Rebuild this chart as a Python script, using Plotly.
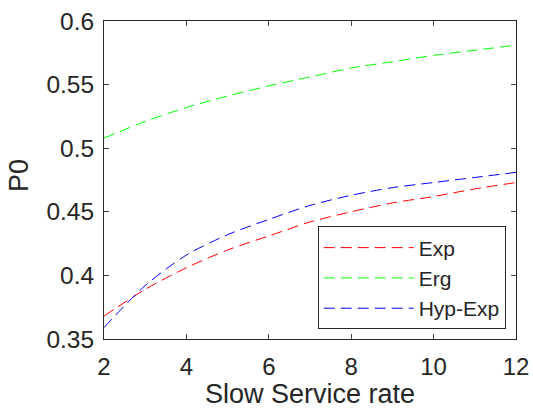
import plotly.graph_objects as go

x_vals = [2, 3, 4, 5, 6, 7, 8, 9, 10, 11, 12]
exp_vals = [0.368, 0.389, 0.406, 0.420, 0.431, 0.442, 0.450, 0.457, 0.462, 0.468, 0.473]
erg_vals = [0.508, 0.521, 0.532, 0.541, 0.549, 0.556, 0.563, 0.568, 0.573, 0.577, 0.581]
hyp_vals = [0.359, 0.392, 0.416, 0.432, 0.444, 0.455, 0.463, 0.469, 0.473, 0.477, 0.481]
series_names = ["Exp", "Erg", "Hyp-Exp"]
series_colors = ["#ff0000", "#00ff00", "#0000ff"]

y_ticks = [0.35, 0.4, 0.45, 0.5, 0.55, 0.6]
y_ticktext = ["0.35", "0.4", "0.45", "0.5", "0.55", "0.6"]
x_ticks = [2, 4, 6, 8, 10, 12]
x_title = "Slow Service rate"
y_title = "P0"

fig = go.Figure()
for name, vals, col in zip(series_names, [exp_vals, erg_vals, hyp_vals], series_colors):
    fig.add_trace(go.Scatter(x=x_vals, y=vals, mode="lines", name=name,
                             line=dict(color=col, width=1, dash="11px,6px",
                                       shape="spline", smoothing=0.8)))

font_fam = "Liberation Sans, Arial, sans-serif"
axcol = "#262626"
fig.update_layout(
    width=533, height=411,
    margin=dict(l=104, r=17, t=21, b=72, autoexpand=False),
    paper_bgcolor="white", plot_bgcolor="white",
    font=dict(family=font_fam, color=axcol, size=24),
    showlegend=True,
    legend=dict(x=0.975, y=0.03, xanchor="right", yanchor="bottom",
                bgcolor="white", bordercolor=axcol, borderwidth=1,
                font=dict(size=21, color=axcol), itemwidth=90,
                tracegroupgap=0),
    annotations=[
        dict(text=x_title, xref="paper", yref="paper", x=0.5, y=-0.2233,
             xanchor="center", yanchor="bottom", showarrow=False, borderpad=0,
             font=dict(size=27, color=axcol)),
        dict(text=y_title, xref="paper", yref="paper", x=-0.2063, y=0.5126,
             xanchor="center", yanchor="middle", showarrow=False, textangle=-90,
             font=dict(size=27, color=axcol)),
    ],
)
fig.update_xaxes(range=[2, 12], tickvals=x_ticks, ticks="inside", ticklen=5,
                 showline=True, linecolor=axcol, linewidth=1, mirror="ticks",
                 showgrid=False, zeroline=False, tickfont=dict(size=24, color=axcol),
                 automargin=False, ticklabelstandoff=6)
fig.update_yaxes(range=[0.35, 0.6], tickvals=y_ticks, ticktext=y_ticktext, ticks="inside", ticklen=5,
                 showline=True, linecolor=axcol, linewidth=1, mirror="ticks",
                 showgrid=False, zeroline=False, tickfont=dict(size=24.5, color=axcol),
                 automargin=False, ticklabelstandoff=4)

fig.write_html("out.html")
